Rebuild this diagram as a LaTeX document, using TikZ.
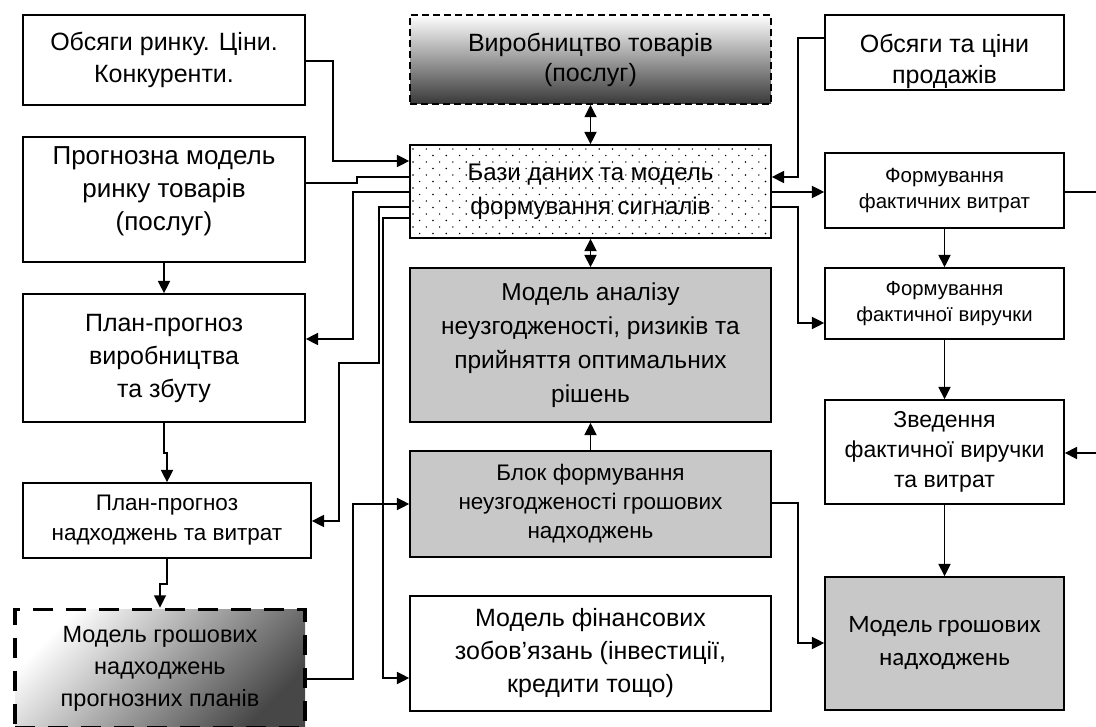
\documentclass[tikz,border=0pt]{standalone}
\usepackage{fontspec}
\setmainfont{Liberation Sans}
\newfontfamily\calibrifont{Carlito}
\usetikzlibrary{arrows.meta,positioning}
\newcommand\fsz[2]{\fontsize{#1}{#2}\selectfont}
\definecolor{boxgray}{HTML}{C8C8C8}
\tikzset{
  box/.style={draw, line width=1.4pt, align=center, inner sep=0pt, font=\fsz{24}{32}},
  conn/.style={line width=1.8pt},
  arr/.style={conn, -{Triangle[length=12.5pt,width=12pt]}},
  darr/.style={conn, {Triangle[length=12.5pt,width=12pt]}-{Triangle[length=12.5pt,width=12pt]}},
  graybox/.style={box, fill=boxgray},
}
\begin{document}
\begin{tikzpicture}[x=1pt,y=-1pt]
\useasboundingbox (0,0) rectangle (1096,727);
\fill[white] (0,0) rectangle (1096,727);

% dotted background of database box
\begin{scope}
\clip (410,145) rectangle (771,238);
\foreach \r in {0,...,15}{
  \pgfmathsetmacro{\off}{mod(\r,2)*6.65}
  \foreach \c in {0,...,28}{
    \fill (413+\c*13.3+\off, 149+\r*6.5) circle (0.8pt);
  }
}
\end{scope}

% left column
\node[box, minimum width=282pt, minimum height=90pt, font=\fsz{25}{32}] (A) at (164,60) {Обсяги ринку. Ціни.\\Конкуренти.};
\node[box, minimum width=282pt, minimum height=125pt, font=\fsz{26}{33}] (B) at (164,199.5) {\raisebox{2pt}[0pt][0pt]{\begin{tabular}{@{}c@{}}Прогнозна модель\\ринку товарів\\(послуг)\end{tabular}}};
\node[box, minimum width=282pt, minimum height=128pt, font=\fsz{25}{33}] (C) at (164,358) {План-прогноз\\виробництва\\та збуту};
\node[box, minimum width=288pt, minimum height=75pt, font=\fsz{22.5}{30}] (D) at (167,520.5) {План-прогноз\\надходжень та витрат};
\node[box, minimum width=290pt, minimum height=118pt, line width=3.5pt, dash pattern=on 20pt off 13pt,
      top color=white, bottom color=black!72, shading angle=45, font=\fsz{23.5}{32}] (E) at (160,668.5) {Модель грошових\\надходжень\\прогнозних планів};

% middle column
\node[box, minimum width=361pt, minimum height=89pt, font=\fsz{25}{30}, line width=1.5pt,
      dash pattern=on 7pt off 4pt, top color=white, bottom color=black!78] (F) at (590.5,59.5) {Виробництво товарів\\(послуг)};
\node[box, minimum width=361pt, minimum height=93pt, font=\fsz{24}{34}] (G) at (590.5,191.5) {Бази даних та модель\\формування сигналів};
\node[graybox, minimum width=361pt, minimum height=154pt, font=\fsz{24.5}{34}] (H) at (590.5,345) {Модель аналізу\\неузгодженості, ризиків та\\прийняття оптимальних\\рішень};
\node[graybox, minimum width=361pt, minimum height=106pt, font=\fsz{22.5}{29}] (I) at (590.5,504) {Блок формування\\неузгодженості грошових\\надходжень};
\node[box, minimum width=361pt, minimum height=115pt, font=\fsz{25}{33}] (J) at (590.5,653.5) {Модель фінансових\\зобов’язань (інвестиції,\\кредити тощо)};

% right column
\node[box, minimum width=239pt, minimum height=75pt, font=\fsz{25}{31}] (K) at (944.5,52.5) {\raisebox{-15.5pt}[0pt][0pt]{\begin{tabular}{@{}c@{}}Обсяги та ціни\\продажів\end{tabular}}};
\node[box, minimum width=239pt, minimum height=75pt, font=\fsz{20.5}{26}] (L) at (944.5,190.5) {Формування\\фактичних витрат};
\node[box, minimum width=239pt, minimum height=71pt, font=\fsz{20.3}{26}] (M) at (944.5,303.5) {Формування\\фактичної виручки};
\node[box, minimum width=239pt, minimum height=104pt, font=\fsz{23}{30}] (N) at (944.5,452) {Зведення\\фактичної виручки\\та витрат};
\node[graybox, minimum width=239pt, minimum height=133pt, font=\calibrifont\fsz{25}{33}] (O) at (944.5,643.5) {Модель грошових\\надходжень};

% connectors, left side
\draw[arr] (A.east |- 0,61) -- (333,61) -- (333,161) -- (G.west |- 0,161);
\draw[conn] (B.east |- 0,183) -- (357,183) -- (357,177) -- (G.west |- 0,177);
\draw[arr] (G.west |- 0,192) -- (353,192) -- (353,339) -- (C.east |- 0,339);
\draw[arr] (G.west |- 0,207) -- (379,207) -- (379,363) -- (339,363) -- (339,521) -- (D.east |- 0,521);
\draw[arr] (G.west |- 0,218) -- (383,218) -- (383,678) -- (J.west |- 0,678);
\draw[arr] (E.east |- 0,679) -- (353,679) -- (353,504) -- (I.west |- 0,504);
\draw[arr] (B.south) -- (C.north);
\draw[arr] (C.south) -- ++(0,30) -| (D.north);
\draw[arr] (D.south) -- ++(0,25) -| (E.north);

% connectors, middle
\draw[darr] (F.south) -- (G.north);
\draw[darr] (G.south) -- (H.north);
\draw[arr] (I.north) -- (H.south);

% connectors, right side
\draw[arr] (K.west |- 0,38) -- (798,38) -- (798,177) -- (G.east |- 0,177);
\draw[arr] (G.east |- 0,192) -- (L.west |- 0,192);
\draw[arr] (G.east |- 0,207) -- (798,207) -- (798,323) -- (M.west |- 0,323);
\draw[arr] (L.south) -- (M.north);
\draw[arr] (M.south) -- (N.north);
\draw[arr] (N.south) -- (O.north);
\draw[arr] (L.east |- 0,192) -- (1102,192) -- (1102,453) -- (N.east |- 0,453);
\draw[arr] (I.east |- 0,503) -- (798,503) -- (798,643) -- (O.west |- 0,643);
\end{tikzpicture}
\end{document}
